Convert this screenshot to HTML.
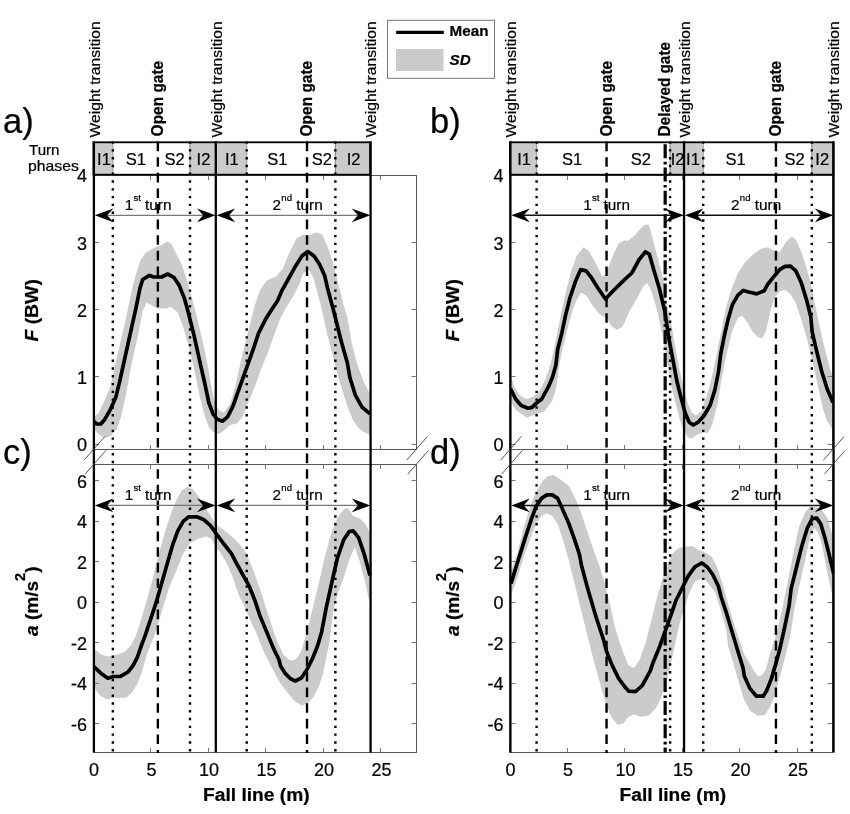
<!DOCTYPE html>
<html><head><meta charset="utf-8"><title>Figure</title>
<style>
html,body{margin:0;padding:0;background:#fff;}
body{width:850px;height:814px;overflow:hidden;}
svg{display:block;will-change:transform;}
svg text{font-family:"Liberation Sans",sans-serif;fill:#000;stroke:#000;stroke-width:0.22px;}
</style></head><body>
<svg width="850" height="814" viewBox="0 0 850 814">
<rect width="850" height="814" fill="#fff"/>
<clipPath id="cpa"><rect x="93.5" y="135.2" width="324.0" height="314.3"/></clipPath>
<polygon points="93.8,416.5 98.1,413.8 103.5,403.0 110.3,386.8 117.0,357.0 125.1,321.9 133.2,284.0 140.0,261.0 145.4,253.0 154.9,247.6 161.6,244.9 167.0,241.4 171.0,243.5 176.5,254.3 181.9,265.1 187.3,281.4 194.0,305.7 200.0,330.0 206.2,357.0 210.3,381.4 214.3,400.3 218.4,409.7 223.8,412.5 230.3,403.4 235.7,384.5 241.0,360.1 247.8,333.1 254.6,306.1 260.0,289.9 266.8,280.4 276.2,276.4 283.0,268.2 289.7,252.0 296.5,238.5 303.2,234.5 308.6,235.3 316.8,232.6 322.2,234.5 327.6,246.6 333.0,262.8 338.4,284.5 343.8,306.1 347.3,316.9 351.4,341.2 356.8,362.8 363.5,381.8 370.0,393.5 370.0,434.7 363.5,431.8 358.1,427.7 352.7,419.6 347.3,406.1 340.5,384.5 333.8,360.1 327.0,333.1 320.3,303.4 313.5,278.0 308.6,269.6 303.2,273.6 299.2,284.5 293.8,295.3 287.0,306.1 280.3,318.2 274.9,333.1 268.1,352.0 261.4,368.2 254.6,387.2 247.8,403.4 242.4,416.9 237.0,423.6 230.3,425.0 223.5,431.0 218.0,434.3 214.3,432.7 208.9,427.3 204.9,416.5 200.0,397.6 194.0,367.8 188.6,346.2 183.2,327.3 177.8,312.4 171.0,307.0 165.7,308.4 157.6,308.4 152.2,305.7 146.8,302.4 142.7,311.0 138.6,332.7 131.9,362.4 126.5,392.2 121.1,416.5 117.0,428.6 111.6,435.4 104.9,438.1 98.1,434.0 93.8,428.6" fill="#cbcbcb" clip-path="url(#cpa)"/>
<clipPath id="cpc"><rect x="93.5" y="424.5" width="324.0" height="328.0"/></clipPath>
<polygon points="93.8,648.8 100.8,654.2 108.0,656.6 117.0,654.8 125.1,651.5 131.2,645.0 135.9,635.7 140.0,623.0 145.4,605.1 152.2,580.8 158.9,553.8 165.7,529.5 171.0,513.2 176.5,499.7 181.9,490.3 187.3,487.0 192.7,488.9 198.1,495.7 203.5,505.1 208.9,513.2 214.9,522.7 218.0,526.0 224.9,530.8 233.0,537.6 239.7,544.3 246.5,553.8 253.2,570.0 260.0,588.9 266.8,610.5 274.3,633.5 279.1,645.7 283.8,655.1 289.2,659.9 293.2,660.5 297.3,657.8 301.4,651.1 304.1,641.6 308.1,628.1 311.4,613.2 318.1,586.2 324.9,556.5 331.6,532.2 337.0,518.6 343.8,509.2 347.8,507.8 353.2,515.9 360.0,518.6 365.4,524.0 370.0,532.2 370.0,605.1 365.4,583.5 360.0,561.9 354.6,547.0 349.2,560.0 343.8,577.0 338.4,591.6 333.0,612.0 329.7,640.3 325.7,660.5 323.0,674.0 318.9,686.2 313.5,697.0 308.1,703.1 302.0,705.8 294.6,701.1 286.5,691.6 279.7,682.2 271.6,667.3 263.5,651.1 255.4,630.8 251.9,624.0 245.1,607.8 238.4,594.3 233.0,578.1 226.2,561.9 220.0,552.0 217.0,548.4 211.6,538.9 206.2,536.2 198.1,538.9 190.0,543.0 183.2,553.8 176.5,570.0 169.7,586.2 164.3,602.4 158.9,621.4 153.5,637.5 146.8,654.6 141.4,673.5 137.3,684.3 131.9,692.4 126.5,697.8 117.0,697.8 106.2,699.2 99.5,695.1 93.8,687.0" fill="#cbcbcb" clip-path="url(#cpc)"/>
<rect x="93.5" y="175.5" width="323.0" height="274.0" fill="none" stroke="#5a5a5a" stroke-width="1"/>
<rect x="93.5" y="464.5" width="323.0" height="288.0" fill="none" stroke="#5a5a5a" stroke-width="1"/>
<line x1="93.50" y1="752.50" x2="93.50" y2="748.00" stroke="#777" stroke-width="1"/>
<line x1="93.50" y1="464.50" x2="93.50" y2="469.00" stroke="#777" stroke-width="1"/>
<line x1="93.50" y1="449.50" x2="93.50" y2="445.00" stroke="#777" stroke-width="1"/>
<line x1="93.50" y1="175.50" x2="93.50" y2="180.00" stroke="#777" stroke-width="1"/>
<text x="94.00" y="775.60" font-size="18" font-weight="normal" font-style="normal" text-anchor="middle">0</text>
<line x1="150.50" y1="752.50" x2="150.50" y2="748.00" stroke="#777" stroke-width="1"/>
<line x1="150.50" y1="464.50" x2="150.50" y2="469.00" stroke="#777" stroke-width="1"/>
<line x1="150.50" y1="449.50" x2="150.50" y2="445.00" stroke="#777" stroke-width="1"/>
<line x1="150.50" y1="175.50" x2="150.50" y2="180.00" stroke="#777" stroke-width="1"/>
<text x="151.50" y="775.60" font-size="18" font-weight="normal" font-style="normal" text-anchor="middle">5</text>
<line x1="208.50" y1="752.50" x2="208.50" y2="748.00" stroke="#777" stroke-width="1"/>
<line x1="208.50" y1="464.50" x2="208.50" y2="469.00" stroke="#777" stroke-width="1"/>
<line x1="208.50" y1="449.50" x2="208.50" y2="445.00" stroke="#777" stroke-width="1"/>
<line x1="208.50" y1="175.50" x2="208.50" y2="180.00" stroke="#777" stroke-width="1"/>
<text x="209.00" y="775.60" font-size="18" font-weight="normal" font-style="normal" text-anchor="middle">10</text>
<line x1="265.50" y1="752.50" x2="265.50" y2="748.00" stroke="#777" stroke-width="1"/>
<line x1="265.50" y1="464.50" x2="265.50" y2="469.00" stroke="#777" stroke-width="1"/>
<line x1="265.50" y1="449.50" x2="265.50" y2="445.00" stroke="#777" stroke-width="1"/>
<line x1="265.50" y1="175.50" x2="265.50" y2="180.00" stroke="#777" stroke-width="1"/>
<text x="266.50" y="775.60" font-size="18" font-weight="normal" font-style="normal" text-anchor="middle">15</text>
<line x1="323.50" y1="752.50" x2="323.50" y2="748.00" stroke="#777" stroke-width="1"/>
<line x1="323.50" y1="464.50" x2="323.50" y2="469.00" stroke="#777" stroke-width="1"/>
<line x1="323.50" y1="449.50" x2="323.50" y2="445.00" stroke="#777" stroke-width="1"/>
<line x1="323.50" y1="175.50" x2="323.50" y2="180.00" stroke="#777" stroke-width="1"/>
<text x="324.00" y="775.60" font-size="18" font-weight="normal" font-style="normal" text-anchor="middle">20</text>
<line x1="380.50" y1="752.50" x2="380.50" y2="748.00" stroke="#777" stroke-width="1"/>
<line x1="380.50" y1="464.50" x2="380.50" y2="469.00" stroke="#777" stroke-width="1"/>
<line x1="380.50" y1="449.50" x2="380.50" y2="445.00" stroke="#777" stroke-width="1"/>
<line x1="380.50" y1="175.50" x2="380.50" y2="180.00" stroke="#777" stroke-width="1"/>
<text x="381.50" y="775.60" font-size="18" font-weight="normal" font-style="normal" text-anchor="middle">25</text>
<line x1="93.50" y1="444.50" x2="99.00" y2="444.50" stroke="#777" stroke-width="1"/>
<line x1="416.50" y1="444.50" x2="411.50" y2="444.50" stroke="#777" stroke-width="1"/>
<text x="87.00" y="451.40" font-size="18" font-weight="normal" font-style="normal" text-anchor="end">0</text>
<line x1="93.50" y1="376.50" x2="99.00" y2="376.50" stroke="#777" stroke-width="1"/>
<line x1="416.50" y1="376.50" x2="411.50" y2="376.50" stroke="#777" stroke-width="1"/>
<text x="87.00" y="384.10" font-size="18" font-weight="normal" font-style="normal" text-anchor="end">1</text>
<line x1="93.50" y1="309.50" x2="99.00" y2="309.50" stroke="#777" stroke-width="1"/>
<line x1="416.50" y1="309.50" x2="411.50" y2="309.50" stroke="#777" stroke-width="1"/>
<text x="87.00" y="316.80" font-size="18" font-weight="normal" font-style="normal" text-anchor="end">2</text>
<line x1="93.50" y1="242.50" x2="99.00" y2="242.50" stroke="#777" stroke-width="1"/>
<line x1="416.50" y1="242.50" x2="411.50" y2="242.50" stroke="#777" stroke-width="1"/>
<text x="87.00" y="249.50" font-size="18" font-weight="normal" font-style="normal" text-anchor="end">3</text>
<text x="87.00" y="182.20" font-size="18" font-weight="normal" font-style="normal" text-anchor="end">4</text>
<line x1="93.50" y1="723.50" x2="99.00" y2="723.50" stroke="#777" stroke-width="1"/>
<line x1="416.50" y1="723.50" x2="411.50" y2="723.50" stroke="#777" stroke-width="1"/>
<text x="87.00" y="731.02" font-size="18" font-weight="normal" font-style="normal" text-anchor="end">-6</text>
<line x1="93.50" y1="683.50" x2="99.00" y2="683.50" stroke="#777" stroke-width="1"/>
<line x1="416.50" y1="683.50" x2="411.50" y2="683.50" stroke="#777" stroke-width="1"/>
<text x="87.00" y="690.48" font-size="18" font-weight="normal" font-style="normal" text-anchor="end">-4</text>
<line x1="93.50" y1="642.50" x2="99.00" y2="642.50" stroke="#777" stroke-width="1"/>
<line x1="416.50" y1="642.50" x2="411.50" y2="642.50" stroke="#777" stroke-width="1"/>
<text x="87.00" y="649.94" font-size="18" font-weight="normal" font-style="normal" text-anchor="end">-2</text>
<line x1="93.50" y1="602.50" x2="99.00" y2="602.50" stroke="#777" stroke-width="1"/>
<line x1="416.50" y1="602.50" x2="411.50" y2="602.50" stroke="#777" stroke-width="1"/>
<text x="87.00" y="609.40" font-size="18" font-weight="normal" font-style="normal" text-anchor="end">0</text>
<line x1="93.50" y1="561.50" x2="99.00" y2="561.50" stroke="#777" stroke-width="1"/>
<line x1="416.50" y1="561.50" x2="411.50" y2="561.50" stroke="#777" stroke-width="1"/>
<text x="87.00" y="568.86" font-size="18" font-weight="normal" font-style="normal" text-anchor="end">2</text>
<line x1="93.50" y1="521.50" x2="99.00" y2="521.50" stroke="#777" stroke-width="1"/>
<line x1="416.50" y1="521.50" x2="411.50" y2="521.50" stroke="#777" stroke-width="1"/>
<text x="87.00" y="528.32" font-size="18" font-weight="normal" font-style="normal" text-anchor="end">4</text>
<line x1="93.50" y1="480.50" x2="99.00" y2="480.50" stroke="#777" stroke-width="1"/>
<line x1="416.50" y1="480.50" x2="411.50" y2="480.50" stroke="#777" stroke-width="1"/>
<text x="87.00" y="487.78" font-size="18" font-weight="normal" font-style="normal" text-anchor="end">6</text>
<rect x="93.5" y="142.3" width="18.9" height="32.9" fill="#cbcbcb"/>
<rect x="189.5" y="142.3" width="25.9" height="32.9" fill="#cbcbcb"/>
<rect x="215.4" y="142.3" width="30.8" height="32.9" fill="#cbcbcb"/>
<rect x="334.9" y="142.3" width="35.3" height="32.9" fill="#cbcbcb"/>
<rect x="93.5" y="142.3" width="276.7" height="32.4" fill="none" stroke="#000" stroke-width="1.8"/>
<text x="103.93" y="164.70" font-size="16.5" font-weight="normal" font-style="normal" text-anchor="middle" fill="#222">I1</text>
<text x="135.96" y="164.70" font-size="16.5" font-weight="normal" font-style="normal" text-anchor="middle" fill="#222">S1</text>
<text x="174.54" y="164.70" font-size="16.5" font-weight="normal" font-style="normal" text-anchor="middle" fill="#222">S2</text>
<text x="203.46" y="164.70" font-size="16.5" font-weight="normal" font-style="normal" text-anchor="middle" fill="#222">I2</text>
<text x="231.81" y="164.70" font-size="16.5" font-weight="normal" font-style="normal" text-anchor="middle" fill="#222">I1</text>
<text x="277.46" y="164.70" font-size="16.5" font-weight="normal" font-style="normal" text-anchor="middle" fill="#222">S1</text>
<text x="321.80" y="164.70" font-size="16.5" font-weight="normal" font-style="normal" text-anchor="middle" fill="#222">S2</text>
<text x="353.54" y="164.70" font-size="16.5" font-weight="normal" font-style="normal" text-anchor="middle" fill="#222">I2</text>
<line x1="112.86" y1="142.30" x2="112.86" y2="175.20" stroke="#666" stroke-width="0.7"/>
<line x1="112.86" y1="141.40" x2="112.86" y2="752.50" stroke="#000" stroke-width="2.4" stroke-dasharray="2.4 5.39"/>
<line x1="190.02" y1="142.30" x2="190.02" y2="175.20" stroke="#666" stroke-width="0.7"/>
<line x1="190.02" y1="141.40" x2="190.02" y2="752.50" stroke="#000" stroke-width="2.4" stroke-dasharray="2.4 5.39"/>
<line x1="246.72" y1="142.30" x2="246.72" y2="175.20" stroke="#666" stroke-width="0.7"/>
<line x1="246.72" y1="141.40" x2="246.72" y2="752.50" stroke="#000" stroke-width="2.4" stroke-dasharray="2.4 5.39"/>
<line x1="335.38" y1="142.30" x2="335.38" y2="175.20" stroke="#666" stroke-width="0.7"/>
<line x1="335.38" y1="141.40" x2="335.38" y2="752.50" stroke="#000" stroke-width="2.4" stroke-dasharray="2.4 5.39"/>
<line x1="157.86" y1="141.60" x2="157.86" y2="753.00" stroke="#000" stroke-width="2.4" stroke-dasharray="9.6 6"/>
<line x1="307.01" y1="141.60" x2="307.01" y2="753.00" stroke="#000" stroke-width="2.4" stroke-dasharray="9.6 6"/>
<line x1="93.90" y1="141.20" x2="93.90" y2="752.50" stroke="#000" stroke-width="2.3"/>
<line x1="215.80" y1="141.20" x2="215.80" y2="752.50" stroke="#000" stroke-width="2.3"/>
<line x1="370.59" y1="141.20" x2="370.59" y2="752.50" stroke="#000" stroke-width="2.3"/>
<text x="99.80" y="137.40" font-size="15.2" font-weight="normal" font-style="normal" text-anchor="start" transform="rotate(-90 99.80 137.40)" textLength="116" lengthAdjust="spacingAndGlyphs">Weight transition</text>
<text x="163.25" y="136.40" font-size="16" font-weight="bold" font-style="normal" text-anchor="start" transform="rotate(-90 163.25 136.40)" textLength="75.6" lengthAdjust="spacingAndGlyphs">Open gate</text>
<text x="221.70" y="137.40" font-size="15.2" font-weight="normal" font-style="normal" text-anchor="start" transform="rotate(-90 221.70 137.40)" textLength="116" lengthAdjust="spacingAndGlyphs">Weight transition</text>
<text x="312.41" y="136.40" font-size="16" font-weight="bold" font-style="normal" text-anchor="start" transform="rotate(-90 312.41 136.40)" textLength="75.6" lengthAdjust="spacingAndGlyphs">Open gate</text>
<text x="376.49" y="137.40" font-size="15.2" font-weight="normal" font-style="normal" text-anchor="start" transform="rotate(-90 376.49 137.40)" textLength="116" lengthAdjust="spacingAndGlyphs">Weight transition</text>
<line x1="99.50" y1="215.30" x2="209.40" y2="215.30" stroke="#777" stroke-width="1.2"/>
<polygon points="94.8,215.3 113.3,208.4 107.2,215.3 113.3,222.2" fill="#000"/>
<polygon points="215.5,215.3 197.0,208.4 203.1,215.3 197.0,222.2" fill="#000"/>
<text x="124.8" y="210.0" font-size="15.3" fill="#111">1</text>
<text x="133.5" y="201.1" font-size="9.6" fill="#111">st</text>
<text x="145.1" y="210.0" font-size="15.3" fill="#111">turn</text>
<line x1="221.40" y1="215.30" x2="364.19" y2="215.30" stroke="#777" stroke-width="1.2"/>
<polygon points="216.7,215.3 235.2,208.4 229.1,215.3 235.2,222.2" fill="#000"/>
<polygon points="370.3,215.3 351.8,208.4 357.9,215.3 351.8,222.2" fill="#000"/>
<text x="272.6" y="210.0" font-size="15.3" fill="#111">2</text>
<text x="281.3" y="201.1" font-size="9.6" fill="#111">nd</text>
<text x="296.3" y="210.0" font-size="15.3" fill="#111">turn</text>
<line x1="99.50" y1="505.40" x2="209.40" y2="505.40" stroke="#777" stroke-width="1.2"/>
<polygon points="94.8,505.4 113.3,498.5 107.2,505.4 113.3,512.3" fill="#000"/>
<polygon points="215.5,505.4 197.0,498.5 203.1,505.4 197.0,512.3" fill="#000"/>
<text x="124.8" y="499.7" font-size="15.3" fill="#111">1</text>
<text x="133.5" y="490.8" font-size="9.6" fill="#111">st</text>
<text x="145.1" y="499.7" font-size="15.3" fill="#111">turn</text>
<line x1="221.40" y1="505.40" x2="364.19" y2="505.40" stroke="#777" stroke-width="1.2"/>
<polygon points="216.7,505.4 235.2,498.5 229.1,505.4 235.2,512.3" fill="#000"/>
<polygon points="370.3,505.4 351.8,498.5 357.9,505.4 351.8,512.3" fill="#000"/>
<text x="272.6" y="499.7" font-size="15.3" fill="#111">2</text>
<text x="281.3" y="490.8" font-size="9.6" fill="#111">nd</text>
<text x="296.3" y="499.7" font-size="15.3" fill="#111">turn</text>
<polyline points="93.8,421.4 96.8,424.0 100.8,424.0 104.9,419.2 110.3,409.7 115.7,397.6 119.7,381.4 125.1,357.0 130.5,332.7 135.9,308.4 140.0,288.1 142.7,279.5 149.5,275.4 153.5,277.0 161.6,277.0 167.6,274.0 173.8,277.3 179.2,285.4 184.6,298.9 188.6,313.8 194.0,335.4 200.0,362.4 204.9,384.0 208.9,403.0 213.0,413.8 217.0,419.2 222.4,421.2 227.6,416.9 233.0,406.1 239.7,387.2 246.5,368.2 253.2,349.3 258.6,333.1 265.4,319.6 272.2,308.8 277.6,300.7 281.6,291.2 288.4,279.0 295.1,266.9 301.9,256.0 307.8,251.6 314.0,256.0 319.5,264.2 324.6,275.5 327.5,288.0 333.8,311.5 340.5,338.5 347.3,362.8 350.0,378.0 355.4,395.3 362.2,407.4 370.0,413.8" fill="none" stroke="#000" stroke-width="3.7" stroke-linejoin="round" clip-path="url(#cpa)"/>
<polyline points="93.8,666.5 100.8,673.2 107.8,678.2 113.5,676.5 120.5,676.4 128.0,672.0 133.2,665.4 137.3,657.3 140.5,648.0 145.4,634.9 150.8,618.6 156.2,602.4 161.6,583.5 167.0,564.6 172.4,545.7 177.8,530.8 183.2,521.4 188.6,516.8 196.8,516.8 203.5,519.5 210.3,525.4 216.5,534.0 223.5,543.5 231.6,553.8 235.7,561.9 242.4,574.0 249.2,586.2 254.6,599.7 260.0,615.9 266.8,632.2 273.5,648.4 278.9,659.5 280.6,666.0 285.1,673.4 290.5,678.8 295.3,681.0 301.6,677.8 307.0,669.5 312.2,659.2 317.6,645.7 321.6,632.2 326.2,607.8 331.6,583.5 337.4,558.0 343.8,539.5 349.2,531.6 353.2,530.8 358.6,537.6 364.1,553.8 370.0,575.4" fill="none" stroke="#000" stroke-width="3.7" stroke-linejoin="round" clip-path="url(#cpc)"/>
<line x1="84.10" y1="460.20" x2="104.90" y2="436.40" stroke="#444" stroke-width="0.9"/>
<line x1="85.10" y1="474.20" x2="105.90" y2="450.40" stroke="#444" stroke-width="0.9"/>
<line x1="406.70" y1="460.20" x2="427.50" y2="436.40" stroke="#444" stroke-width="0.9"/>
<line x1="407.70" y1="474.20" x2="428.50" y2="450.40" stroke="#444" stroke-width="0.9"/>
<text x="203.10" y="801.20" font-size="18.3" font-weight="bold" font-style="normal" text-anchor="start" textLength="106.5" lengthAdjust="spacingAndGlyphs">Fall line (m)</text>
<text x="38.2" y="341.6" font-size="18.3" font-weight="bold" textLength="62.5" lengthAdjust="spacingAndGlyphs" transform="rotate(-90 38.2 341.6)"><tspan font-style="italic">F</tspan> (BW)</text>
<text x="38.2" y="636" font-size="18.3" font-weight="bold" textLength="69.5" lengthAdjust="spacingAndGlyphs" transform="rotate(-90 38.2 636)"><tspan font-style="italic">a</tspan> (m/s<tspan font-size="13.8" dy="-13">2</tspan><tspan dy="13">)</tspan></text>
<clipPath id="cpb"><rect x="510.0" y="135.2" width="324.2" height="314.3"/></clipPath>
<polygon points="510.4,375.0 514.5,387.2 519.9,395.3 526.6,399.3 533.4,396.6 540.1,389.9 545.5,379.1 550.9,362.8 555.0,343.9 560.4,316.9 565.8,292.6 571.2,270.9 576.6,256.1 583.4,247.2 588.8,250.7 595.5,262.8 602.3,276.4 606.0,274.0 610.4,262.0 613.5,254.0 618.9,243.2 625.7,239.9 627.0,241.2 633.8,236.5 640.5,228.4 644.6,225.0 648.6,224.6 650.7,231.1 654.1,244.6 658.1,259.5 661.5,273.0 664.9,286.5 666.2,300.7 671.6,325.0 675.7,349.3 679.7,370.9 683.8,387.2 687.8,403.4 691.9,412.8 695.9,415.5 701.4,411.5 704.1,403.4 709.5,387.2 714.9,362.8 720.3,335.8 725.7,308.8 731.1,289.9 737.8,273.6 744.6,262.8 752.7,254.7 760.8,248.8 767.6,247.2 774.3,250.7 779.7,252.0 786.5,241.2 791.9,236.4 795.9,239.9 801.4,252.0 806.8,268.2 812.2,289.9 817.6,316.9 823.0,341.2 828.4,362.8 833.0,378.0 833.0,430.0 827.0,421.0 823.0,408.8 817.6,384.5 812.2,360.1 806.8,338.5 801.4,319.6 795.9,303.4 790.5,293.9 785.1,289.9 779.7,291.2 774.3,298.0 770.3,311.5 766.2,330.4 762.2,338.5 758.1,337.2 752.7,331.8 747.3,322.3 741.9,315.5 737.8,318.2 732.4,330.4 727.0,352.0 721.6,379.1 717.6,403.4 712.2,425.0 708.1,433.1 704.1,432.5 697.3,434.5 691.9,438.5 687.8,437.2 683.8,430.4 679.7,419.6 675.7,403.4 671.6,387.2 667.6,365.5 663.5,341.2 658.1,314.2 654.1,300.0 650.0,287.8 647.3,283.1 643.2,286.5 637.8,297.3 629.3,311.5 622.6,326.4 617.2,329.9 611.8,326.4 606.4,318.2 599.6,314.2 592.8,306.1 586.1,295.3 580.7,292.6 573.9,306.1 568.5,325.0 563.1,346.6 559.1,365.5 556.4,387.2 552.3,400.7 544.2,411.5 536.1,414.2 526.6,417.4 515.8,410.1 510.4,400.7" fill="#cbcbcb" clip-path="url(#cpb)"/>
<clipPath id="cpd"><rect x="510.0" y="424.5" width="324.2" height="328.0"/></clipPath>
<polygon points="510.4,572.7 517.2,553.8 523.9,526.8 530.7,505.1 536.1,491.6 542.8,480.8 548.2,475.9 553.6,474.9 560.4,479.5 569.2,486.2 575.9,499.7 581.3,513.2 586.7,529.5 592.1,545.7 598.9,564.6 604.3,581.6 610.4,605.9 615.1,627.6 621.9,649.2 628.6,665.4 634.0,668.1 639.5,660.0 646.2,641.1 651.6,619.5 657.0,597.8 662.4,578.9 667.4,564.0 672.4,553.8 677.8,548.4 684.6,546.5 692.7,546.2 698.1,549.7 704.9,552.4 711.6,556.5 717.0,567.3 722.4,583.5 727.8,602.4 733.2,621.4 738.6,637.6 744.3,654.5 749.1,662.5 753.8,670.5 757.8,675.9 761.9,675.3 765.9,669.2 768.6,658.4 772.0,647.6 775.4,636.8 777.6,629.5 783.0,605.1 788.4,578.1 793.8,551.1 799.2,526.8 804.6,513.2 810.0,506.5 816.8,507.8 822.2,510.5 827.6,518.6 833.8,540.3 833.8,602.4 830.3,586.2 826.2,567.3 822.2,545.7 818.1,532.2 814.1,528.1 810.0,537.6 805.9,556.5 800.5,580.8 795.1,605.1 790.3,635.4 786.2,653.0 782.2,667.8 778.1,682.7 774.1,697.6 769.3,708.4 764.6,715.1 757.8,715.8 750.4,711.1 744.3,700.3 738.9,682.7 733.5,663.8 728.1,646.2 726.2,629.5 720.8,610.5 715.4,593.0 711.1,587.0 705.7,580.3 700.3,578.9 694.9,581.6 689.5,592.4 684.1,608.6 678.6,627.6 674.6,646.5 670.5,665.4 666.5,681.6 661.1,697.8 655.7,708.6 648.9,715.4 640.8,716.8 634.0,714.6 628.6,716.8 623.2,723.5 617.8,724.9 611.1,716.8 605.7,703.2 600.3,684.3 593.5,660.0 586.8,633.0 580.0,606.0 573.9,580.8 568.5,559.2 563.1,540.3 557.7,524.0 552.3,515.9 546.9,513.2 541.5,515.9 536.1,524.0 530.7,537.6 523.9,556.5 517.2,578.1 510.4,597.0" fill="#cbcbcb" clip-path="url(#cpd)"/>
<rect x="510.0" y="175.5" width="322.5" height="274.0" fill="none" stroke="#5a5a5a" stroke-width="1"/>
<rect x="510.0" y="464.5" width="322.5" height="288.0" fill="none" stroke="#5a5a5a" stroke-width="1"/>
<line x1="509.50" y1="752.50" x2="509.50" y2="748.00" stroke="#777" stroke-width="1"/>
<line x1="509.50" y1="464.50" x2="509.50" y2="469.00" stroke="#777" stroke-width="1"/>
<line x1="509.50" y1="449.50" x2="509.50" y2="445.00" stroke="#777" stroke-width="1"/>
<line x1="509.50" y1="175.50" x2="509.50" y2="180.00" stroke="#777" stroke-width="1"/>
<text x="510.50" y="775.60" font-size="18" font-weight="normal" font-style="normal" text-anchor="middle">0</text>
<line x1="567.50" y1="752.50" x2="567.50" y2="748.00" stroke="#777" stroke-width="1"/>
<line x1="567.50" y1="464.50" x2="567.50" y2="469.00" stroke="#777" stroke-width="1"/>
<line x1="567.50" y1="449.50" x2="567.50" y2="445.00" stroke="#777" stroke-width="1"/>
<line x1="567.50" y1="175.50" x2="567.50" y2="180.00" stroke="#777" stroke-width="1"/>
<text x="568.00" y="775.60" font-size="18" font-weight="normal" font-style="normal" text-anchor="middle">5</text>
<line x1="624.50" y1="752.50" x2="624.50" y2="748.00" stroke="#777" stroke-width="1"/>
<line x1="624.50" y1="464.50" x2="624.50" y2="469.00" stroke="#777" stroke-width="1"/>
<line x1="624.50" y1="449.50" x2="624.50" y2="445.00" stroke="#777" stroke-width="1"/>
<line x1="624.50" y1="175.50" x2="624.50" y2="180.00" stroke="#777" stroke-width="1"/>
<text x="625.50" y="775.60" font-size="18" font-weight="normal" font-style="normal" text-anchor="middle">10</text>
<line x1="682.50" y1="752.50" x2="682.50" y2="748.00" stroke="#777" stroke-width="1"/>
<line x1="682.50" y1="464.50" x2="682.50" y2="469.00" stroke="#777" stroke-width="1"/>
<line x1="682.50" y1="449.50" x2="682.50" y2="445.00" stroke="#777" stroke-width="1"/>
<line x1="682.50" y1="175.50" x2="682.50" y2="180.00" stroke="#777" stroke-width="1"/>
<text x="683.00" y="775.60" font-size="18" font-weight="normal" font-style="normal" text-anchor="middle">15</text>
<line x1="739.50" y1="752.50" x2="739.50" y2="748.00" stroke="#777" stroke-width="1"/>
<line x1="739.50" y1="464.50" x2="739.50" y2="469.00" stroke="#777" stroke-width="1"/>
<line x1="739.50" y1="449.50" x2="739.50" y2="445.00" stroke="#777" stroke-width="1"/>
<line x1="739.50" y1="175.50" x2="739.50" y2="180.00" stroke="#777" stroke-width="1"/>
<text x="740.50" y="775.60" font-size="18" font-weight="normal" font-style="normal" text-anchor="middle">20</text>
<line x1="797.50" y1="752.50" x2="797.50" y2="748.00" stroke="#777" stroke-width="1"/>
<line x1="797.50" y1="464.50" x2="797.50" y2="469.00" stroke="#777" stroke-width="1"/>
<line x1="797.50" y1="449.50" x2="797.50" y2="445.00" stroke="#777" stroke-width="1"/>
<line x1="797.50" y1="175.50" x2="797.50" y2="180.00" stroke="#777" stroke-width="1"/>
<text x="798.00" y="775.60" font-size="18" font-weight="normal" font-style="normal" text-anchor="middle">25</text>
<line x1="510.00" y1="444.50" x2="515.50" y2="444.50" stroke="#777" stroke-width="1"/>
<line x1="832.50" y1="444.50" x2="827.50" y2="444.50" stroke="#777" stroke-width="1"/>
<text x="503.50" y="451.40" font-size="18" font-weight="normal" font-style="normal" text-anchor="end">0</text>
<line x1="510.00" y1="376.50" x2="515.50" y2="376.50" stroke="#777" stroke-width="1"/>
<line x1="832.50" y1="376.50" x2="827.50" y2="376.50" stroke="#777" stroke-width="1"/>
<text x="503.50" y="384.10" font-size="18" font-weight="normal" font-style="normal" text-anchor="end">1</text>
<line x1="510.00" y1="309.50" x2="515.50" y2="309.50" stroke="#777" stroke-width="1"/>
<line x1="832.50" y1="309.50" x2="827.50" y2="309.50" stroke="#777" stroke-width="1"/>
<text x="503.50" y="316.80" font-size="18" font-weight="normal" font-style="normal" text-anchor="end">2</text>
<line x1="510.00" y1="242.50" x2="515.50" y2="242.50" stroke="#777" stroke-width="1"/>
<line x1="832.50" y1="242.50" x2="827.50" y2="242.50" stroke="#777" stroke-width="1"/>
<text x="503.50" y="249.50" font-size="18" font-weight="normal" font-style="normal" text-anchor="end">3</text>
<text x="503.50" y="182.20" font-size="18" font-weight="normal" font-style="normal" text-anchor="end">4</text>
<line x1="510.00" y1="723.50" x2="515.50" y2="723.50" stroke="#777" stroke-width="1"/>
<line x1="832.50" y1="723.50" x2="827.50" y2="723.50" stroke="#777" stroke-width="1"/>
<text x="503.50" y="731.02" font-size="18" font-weight="normal" font-style="normal" text-anchor="end">-6</text>
<line x1="510.00" y1="683.50" x2="515.50" y2="683.50" stroke="#777" stroke-width="1"/>
<line x1="832.50" y1="683.50" x2="827.50" y2="683.50" stroke="#777" stroke-width="1"/>
<text x="503.50" y="690.48" font-size="18" font-weight="normal" font-style="normal" text-anchor="end">-4</text>
<line x1="510.00" y1="642.50" x2="515.50" y2="642.50" stroke="#777" stroke-width="1"/>
<line x1="832.50" y1="642.50" x2="827.50" y2="642.50" stroke="#777" stroke-width="1"/>
<text x="503.50" y="649.94" font-size="18" font-weight="normal" font-style="normal" text-anchor="end">-2</text>
<line x1="510.00" y1="602.50" x2="515.50" y2="602.50" stroke="#777" stroke-width="1"/>
<line x1="832.50" y1="602.50" x2="827.50" y2="602.50" stroke="#777" stroke-width="1"/>
<text x="503.50" y="609.40" font-size="18" font-weight="normal" font-style="normal" text-anchor="end">0</text>
<line x1="510.00" y1="561.50" x2="515.50" y2="561.50" stroke="#777" stroke-width="1"/>
<line x1="832.50" y1="561.50" x2="827.50" y2="561.50" stroke="#777" stroke-width="1"/>
<text x="503.50" y="568.86" font-size="18" font-weight="normal" font-style="normal" text-anchor="end">2</text>
<line x1="510.00" y1="521.50" x2="515.50" y2="521.50" stroke="#777" stroke-width="1"/>
<line x1="832.50" y1="521.50" x2="827.50" y2="521.50" stroke="#777" stroke-width="1"/>
<text x="503.50" y="528.32" font-size="18" font-weight="normal" font-style="normal" text-anchor="end">4</text>
<line x1="510.00" y1="480.50" x2="515.50" y2="480.50" stroke="#777" stroke-width="1"/>
<line x1="832.50" y1="480.50" x2="827.50" y2="480.50" stroke="#777" stroke-width="1"/>
<text x="503.50" y="487.78" font-size="18" font-weight="normal" font-style="normal" text-anchor="end">6</text>
<rect x="510.0" y="142.3" width="26.1" height="32.9" fill="#cbcbcb"/>
<rect x="669.6" y="142.3" width="14.0" height="32.9" fill="#cbcbcb"/>
<rect x="683.6" y="142.3" width="19.1" height="32.9" fill="#cbcbcb"/>
<rect x="811.3" y="142.3" width="21.9" height="32.9" fill="#cbcbcb"/>
<rect x="510.0" y="142.3" width="323.2" height="32.4" fill="none" stroke="#000" stroke-width="1.8"/>
<text x="524.05" y="164.70" font-size="16.5" font-weight="normal" font-style="normal" text-anchor="middle" fill="#222">I1</text>
<text x="572.18" y="164.70" font-size="16.5" font-weight="normal" font-style="normal" text-anchor="middle" fill="#222">S1</text>
<text x="640.91" y="164.70" font-size="16.5" font-weight="normal" font-style="normal" text-anchor="middle" fill="#222">S2</text>
<text x="677.63" y="164.70" font-size="16.5" font-weight="normal" font-style="normal" text-anchor="middle" fill="#222">I2</text>
<text x="692.99" y="164.70" font-size="16.5" font-weight="normal" font-style="normal" text-anchor="middle" fill="#222">I1</text>
<text x="735.70" y="164.70" font-size="16.5" font-weight="normal" font-style="normal" text-anchor="middle" fill="#222">S1</text>
<text x="794.48" y="164.70" font-size="16.5" font-weight="normal" font-style="normal" text-anchor="middle" fill="#222">S2</text>
<text x="822.23" y="164.70" font-size="16.5" font-weight="normal" font-style="normal" text-anchor="middle" fill="#222">I2</text>
<line x1="536.61" y1="142.30" x2="536.61" y2="175.20" stroke="#666" stroke-width="0.7"/>
<line x1="536.61" y1="141.40" x2="536.61" y2="752.50" stroke="#000" stroke-width="2.4" stroke-dasharray="2.4 5.39"/>
<line x1="670.12" y1="142.30" x2="670.12" y2="175.20" stroke="#666" stroke-width="0.7"/>
<line x1="670.12" y1="141.40" x2="670.12" y2="752.50" stroke="#000" stroke-width="2.4" stroke-dasharray="2.4 5.39"/>
<line x1="703.24" y1="142.30" x2="703.24" y2="175.20" stroke="#666" stroke-width="0.7"/>
<line x1="703.24" y1="141.40" x2="703.24" y2="752.50" stroke="#000" stroke-width="2.4" stroke-dasharray="2.4 5.39"/>
<line x1="811.80" y1="142.30" x2="811.80" y2="175.20" stroke="#666" stroke-width="0.7"/>
<line x1="811.80" y1="141.40" x2="811.80" y2="752.50" stroke="#000" stroke-width="2.4" stroke-dasharray="2.4 5.39"/>
<line x1="606.55" y1="141.60" x2="606.55" y2="753.00" stroke="#000" stroke-width="2.4" stroke-dasharray="9.6 6"/>
<line x1="775.95" y1="141.60" x2="775.95" y2="753.00" stroke="#000" stroke-width="2.4" stroke-dasharray="9.6 6"/>
<line x1="665.16" y1="144.30" x2="665.16" y2="752.50" stroke="#000" stroke-width="3.2" stroke-dasharray="14 3.5 2.6 3.1"/>
<line x1="510.40" y1="141.20" x2="510.40" y2="752.50" stroke="#000" stroke-width="2.3"/>
<line x1="684.05" y1="141.20" x2="684.05" y2="752.50" stroke="#000" stroke-width="2.3"/>
<line x1="833.55" y1="141.20" x2="833.55" y2="752.50" stroke="#000" stroke-width="2.3"/>
<text x="516.30" y="137.40" font-size="15.2" font-weight="normal" font-style="normal" text-anchor="start" transform="rotate(-90 516.30 137.40)" textLength="116" lengthAdjust="spacingAndGlyphs">Weight transition</text>
<text x="611.96" y="136.40" font-size="16" font-weight="bold" font-style="normal" text-anchor="start" transform="rotate(-90 611.96 136.40)" textLength="75.6" lengthAdjust="spacingAndGlyphs">Open gate</text>
<text x="670.26" y="136.40" font-size="16" font-weight="bold" font-style="normal" text-anchor="start" transform="rotate(-90 670.26 136.40)" textLength="94.4" lengthAdjust="spacingAndGlyphs">Delayed gate</text>
<text x="689.95" y="137.40" font-size="15.2" font-weight="normal" font-style="normal" text-anchor="start" transform="rotate(-90 689.95 137.40)" textLength="116" lengthAdjust="spacingAndGlyphs">Weight transition</text>
<text x="781.35" y="136.40" font-size="16" font-weight="bold" font-style="normal" text-anchor="start" transform="rotate(-90 781.35 136.40)" textLength="75.6" lengthAdjust="spacingAndGlyphs">Open gate</text>
<text x="839.45" y="137.40" font-size="15.2" font-weight="normal" font-style="normal" text-anchor="start" transform="rotate(-90 839.45 137.40)" textLength="116" lengthAdjust="spacingAndGlyphs">Weight transition</text>
<line x1="516.00" y1="215.30" x2="677.65" y2="215.30" stroke="#111" stroke-width="1.5"/>
<polygon points="511.3,215.3 529.8,208.4 523.7,215.3 529.8,222.2" fill="#000"/>
<polygon points="683.8,215.3 665.2,208.4 671.4,215.3 665.2,222.2" fill="#000"/>
<text x="583.3" y="210.0" font-size="15.3" fill="#111">1</text>
<text x="592.0" y="201.1" font-size="9.6" fill="#111">st</text>
<text x="603.6" y="210.0" font-size="15.3" fill="#111">turn</text>
<line x1="689.65" y1="215.30" x2="827.15" y2="215.30" stroke="#111" stroke-width="1.5"/>
<polygon points="684.9,215.3 703.4,208.4 697.3,215.3 703.4,222.2" fill="#000"/>
<polygon points="833.3,215.3 814.8,208.4 820.9,215.3 814.8,222.2" fill="#000"/>
<text x="731.1" y="210.0" font-size="15.3" fill="#111">2</text>
<text x="739.8" y="201.1" font-size="9.6" fill="#111">nd</text>
<text x="754.8" y="210.0" font-size="15.3" fill="#111">turn</text>
<line x1="516.00" y1="505.40" x2="677.65" y2="505.40" stroke="#111" stroke-width="1.5"/>
<polygon points="511.3,505.4 529.8,498.5 523.7,505.4 529.8,512.3" fill="#000"/>
<polygon points="683.8,505.4 665.2,498.5 671.4,505.4 665.2,512.3" fill="#000"/>
<text x="583.3" y="499.7" font-size="15.3" fill="#111">1</text>
<text x="592.0" y="490.8" font-size="9.6" fill="#111">st</text>
<text x="603.6" y="499.7" font-size="15.3" fill="#111">turn</text>
<line x1="689.65" y1="505.40" x2="827.15" y2="505.40" stroke="#111" stroke-width="1.5"/>
<polygon points="684.9,505.4 703.4,498.5 697.3,505.4 703.4,512.3" fill="#000"/>
<polygon points="833.3,505.4 814.8,498.5 820.9,505.4 814.8,512.3" fill="#000"/>
<text x="731.1" y="499.7" font-size="15.3" fill="#111">2</text>
<text x="739.8" y="490.8" font-size="9.6" fill="#111">nd</text>
<text x="754.8" y="499.7" font-size="15.3" fill="#111">turn</text>
<polyline points="510.4,388.5 515.8,399.3 521.2,405.5 528.0,408.2 532.0,407.4 536.1,403.4 541.5,399.3 548.2,387.2 552.3,377.7 555.8,365.5 557.7,349.3 561.8,333.1 565.8,314.2 569.9,298.0 575.3,281.8 580.7,269.6 586.1,270.9 591.5,277.7 598.2,288.5 605.5,299.0 613.5,290.5 623.0,281.1 631.8,273.0 639.2,259.5 645.3,252.0 649.3,254.1 654.1,271.0 659.5,289.0 664.9,311.5 668.9,338.5 673.0,360.1 677.0,381.8 681.1,398.0 685.1,412.8 689.2,422.3 693.2,425.0 698.6,421.8 704.1,415.5 710.2,405.0 714.9,389.9 718.6,371.0 720.8,353.5 724.3,335.8 728.4,318.2 732.4,304.7 737.8,295.3 743.2,290.4 748.6,292.0 756.8,293.9 764.3,290.7 767.6,284.5 773.0,277.7 779.7,269.6 785.1,266.4 790.5,266.1 795.9,270.9 801.4,283.1 806.8,300.7 810.8,316.9 812.2,331.8 816.2,349.3 821.6,371.0 827.0,388.5 833.0,402.5" fill="none" stroke="#000" stroke-width="3.7" stroke-linejoin="round" clip-path="url(#cpb)"/>
<polyline points="511.0,583.5 518.5,559.2 525.3,537.6 532.0,517.3 536.1,506.5 541.5,498.4 546.9,494.9 552.3,494.9 557.7,498.4 563.1,510.5 568.5,522.7 573.9,537.6 579.3,553.8 581.5,565.4 588.1,590.0 596.2,617.5 603.6,640.0 606.4,651.0 611.8,664.6 618.5,678.1 624.5,686.5 628.6,691.1 635.4,691.6 642.2,685.7 650.3,670.8 653.0,662.7 659.7,646.5 666.5,627.6 673.2,608.6 675.9,600.5 682.7,587.0 688.1,576.2 694.9,566.8 701.6,563.0 707.3,567.0 712.7,574.5 718.4,586.2 721.1,597.0 726.5,613.2 731.5,630.0 737.6,650.3 743.0,667.8 744.3,675.9 749.7,688.1 756.5,696.2 763.2,696.2 766.6,690.8 771.4,678.6 775.4,665.1 779.5,650.3 784.5,628.0 789.2,605.1 791.1,588.9 796.5,567.3 801.9,545.7 807.3,528.1 812.2,518.6 816.8,518.1 820.8,524.0 824.9,537.6 828.9,553.8 833.8,574.0" fill="none" stroke="#000" stroke-width="3.7" stroke-linejoin="round" clip-path="url(#cpd)"/>
<line x1="500.60" y1="460.20" x2="521.40" y2="436.40" stroke="#444" stroke-width="0.9"/>
<line x1="501.60" y1="474.20" x2="522.40" y2="450.40" stroke="#444" stroke-width="0.9"/>
<line x1="823.35" y1="460.20" x2="844.15" y2="436.40" stroke="#444" stroke-width="0.9"/>
<line x1="824.35" y1="474.20" x2="845.15" y2="450.40" stroke="#444" stroke-width="0.9"/>
<text x="619.60" y="801.20" font-size="18.3" font-weight="bold" font-style="normal" text-anchor="start" textLength="106.5" lengthAdjust="spacingAndGlyphs">Fall line (m)</text>
<text x="458.8" y="341.6" font-size="18.3" font-weight="bold" textLength="62.5" lengthAdjust="spacingAndGlyphs" transform="rotate(-90 458.8 341.6)"><tspan font-style="italic">F</tspan> (BW)</text>
<text x="458.8" y="636" font-size="18.3" font-weight="bold" textLength="69.5" lengthAdjust="spacingAndGlyphs" transform="rotate(-90 458.8 636)"><tspan font-style="italic">a</tspan> (m/s<tspan font-size="13.8" dy="-13">2</tspan><tspan dy="13">)</tspan></text>
<text x="3.00" y="133.30" font-size="34.5" font-weight="normal" font-style="normal" text-anchor="start">a)</text>
<text x="430.00" y="133.30" font-size="34.5" font-weight="normal" font-style="normal" text-anchor="start">b)</text>
<text x="3.00" y="464.40" font-size="34.5" font-weight="normal" font-style="normal" text-anchor="start">c)</text>
<text x="430.00" y="464.40" font-size="34.5" font-weight="normal" font-style="normal" text-anchor="start">d)</text>
<text x="29.00" y="154.90" font-size="14.6" font-weight="normal" font-style="normal" text-anchor="start" textLength="30.5" lengthAdjust="spacingAndGlyphs">Turn</text>
<text x="28.00" y="171.20" font-size="14.6" font-weight="normal" font-style="normal" text-anchor="start" textLength="50.8" lengthAdjust="spacingAndGlyphs">phases</text>
<rect x="387.5" y="20.3" width="107" height="58" fill="#fff" stroke="#777" stroke-width="1"/>
<line x1="396.20" y1="32.30" x2="443.80" y2="32.30" stroke="#000" stroke-width="3.2"/>
<rect x="396" y="49" width="47.5" height="22" fill="#cbcbcb"/>
<text x="449.60" y="36.40" font-size="15.2" font-weight="bold" font-style="normal" text-anchor="start">Mean</text>
<text x="449.60" y="64.60" font-size="15.2" font-weight="bold" font-style="italic" text-anchor="start">SD</text>
</svg>
</body></html>
